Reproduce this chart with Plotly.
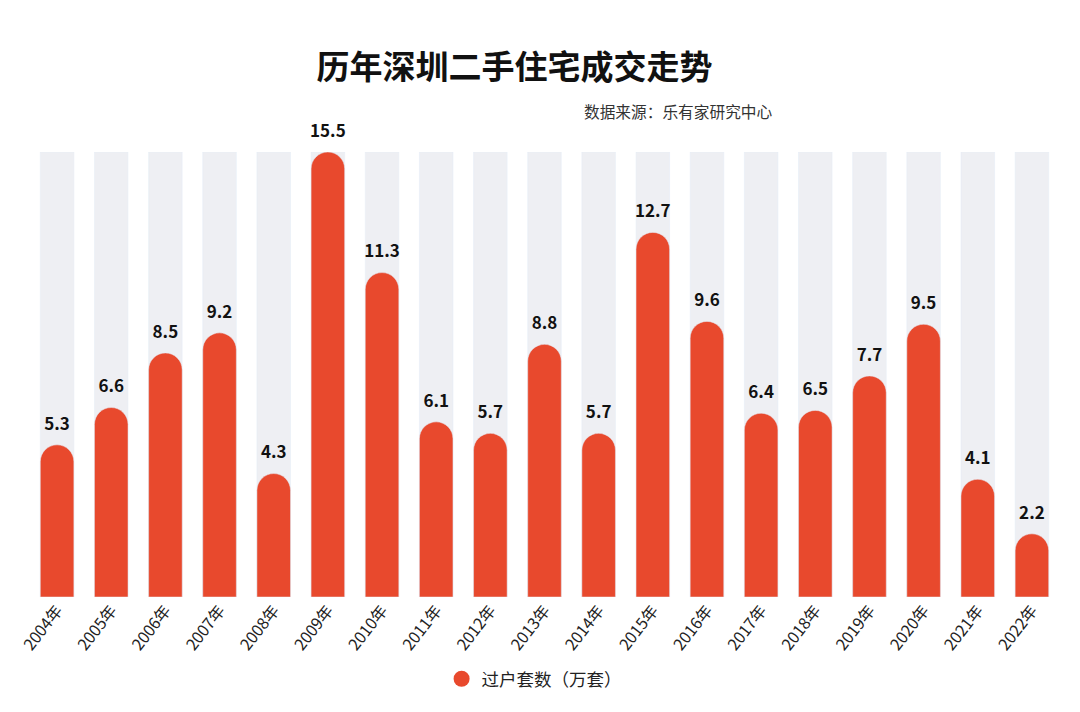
import plotly.graph_objects as go

# 历年深圳二手住宅成交走势 (万套)
years = [f"{y}年" for y in range(2004, 2023)]
deals = [5.3, 6.6, 8.5, 9.2, 4.3, 15.5, 11.3, 6.1, 5.7, 8.8,
         5.7, 12.7, 9.6, 6.4, 6.5, 7.7, 9.5, 4.1, 2.2]
track = [15.5] * len(years)  # light grey background columns

red = "#e8492d"
font_cn = "Noto Sans CJK SC"

fig = go.Figure()

# grey background bars on the base axes
fig.add_trace(go.Bar(
    x=years, y=track,
    marker_color="#eeeff3",
    width=0.62,
    hoverinfo="skip",
    showlegend=False,
))

# actual values on overlaying axes so they keep their own round tops
fig.add_trace(go.Bar(
    x=years, y=deals,
    xaxis="x2", yaxis="y2",
    marker=dict(color=red, cornerradius="50%"),
    width=0.62,
    showlegend=False,
))

# value labels
fig.add_trace(go.Scatter(
    x=years, y=deals,
    xaxis="x2", yaxis="y2",
    mode="markers+text",
    marker=dict(size=16, opacity=0),
    text=[f"<b>{v}</b>" for v in deals],
    textposition="top center",
    textfont=dict(size=17, color="#111111", family=font_cn),
    cliponaxis=False,
    hoverinfo="skip",
    showlegend=False,
))

# legend entry with a round marker
fig.add_trace(go.Scatter(
    x=[None], y=[None],
    mode="markers",
    marker=dict(color=red, size=18, symbol="circle"),
    name="过户套数（万套）",
))

fig.update_layout(
    width=1080, height=712,
    plot_bgcolor="white",
    paper_bgcolor="white",
    font=dict(family=font_cn, color="#222222"),
    margin=dict(l=22, r=29, t=144, b=123),
    title=dict(
        text="<b>历年深圳二手住宅成交走势</b>",
        font=dict(size=33, color="#111111", family=font_cn),
        x=0.469, xanchor="center",
        y=0.916, yanchor="middle",
    ),
    showlegend=True,
    legend=dict(
        orientation="h",
        x=0.40, xanchor="left",
        y=-0.184, yanchor="middle",
        font=dict(size=17.5, color="#222222"),
        itemwidth=30,
    ),
    xaxis=dict(
        range=[-0.5, len(years) - 0.5],
        tickangle=-52,
        tickfont=dict(size=16, color="#222222"),
        automargin=False,
        showgrid=False, showline=False, ticks="",
    ),
    yaxis=dict(
        range=[0, 15.5],
        visible=False,
        showgrid=False,
        zeroline=False,
    ),
    xaxis2=dict(overlaying="x", range=[-0.5, len(years) - 0.5], visible=False),
    yaxis2=dict(overlaying="y", range=[0, 15.5], visible=False),
    annotations=[dict(
        text="数据来源：乐有家研究中心",
        xref="paper", yref="paper",
        x=0.536, y=1.092,
        xanchor="left", yanchor="middle",
        showarrow=False,
        font=dict(size=15.7, color="#333333"),
    )],
)

fig.write_html("out.html")
